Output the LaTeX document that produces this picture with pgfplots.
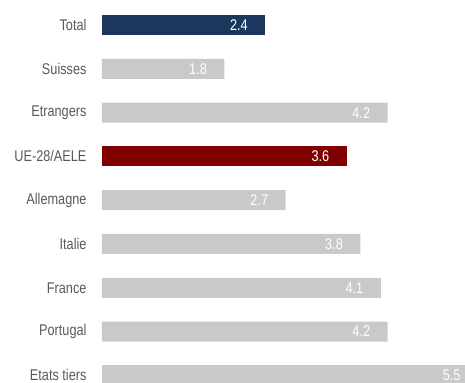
\documentclass[border=0pt]{standalone}
\usepackage{pgfplots}
\pgfplotsset{compat=1.18}
\usepackage{fontspec}
\setmainfont[FakeStretch=0.82]{Liberation Sans}
\definecolor{navy}{HTML}{1B375E}
\definecolor{darkred}{HTML}{800000}
\definecolor{lgray}{HTML}{C9C9C9}
\definecolor{labgray}{HTML}{595959}
\begin{document}
\begin{tikzpicture}
\begin{axis}[
  scale only axis,
  width=363pt, height=383pt,
  xmin=0, xmax=5.338,
  ymin=-0.571, ymax=8.174,
  y dir=reverse,
  axis line style={draw=none},
  xtick=\empty,
  ytick={0,1,2,3,4,5,6,7,8},
  yticklabels={Total,Suisses,Etrangers,UE-28/AELE,Allemagne,Italie,France,Portugal,Etats tiers},
  major tick length=0pt,
  yticklabel style={font=\fontsize{15.5}{17}\selectfont, text=labgray, xshift=-12pt},
  xbar, bar width=20pt, bar shift=0pt,
  clip=false,
  point meta=explicit,
  nodes near coords,
  nodes near coords style={anchor=east, xshift=-14pt, text=white, font=\fontsize{15.5}{17}\selectfont, /pgf/number format/fixed, /pgf/number format/fixed zerofill, /pgf/number format/precision=1, /pgf/number format/assume math mode=true},
]
\addplot[fill=navy, draw=none] coordinates {(2.4,0) [2.4]};
\addplot[fill=lgray, draw=none] coordinates {(1.8,1) [1.8] (4.2,2) [4.2]};
\addplot[fill=darkred, draw=none] coordinates {(3.6,3) [3.6]};
\addplot[fill=lgray, draw=none] coordinates {(2.7,4) [2.7] (3.8,5) [3.8] (4.1,6) [4.1] (4.2,7) [4.2]};
\addplot[fill=lgray, draw=none, nodes near coords style={xshift=13pt}] coordinates {(5.338,8) [5.5]};
\end{axis}
\pgfresetboundingbox
\useasboundingbox ([xshift=-102pt]current axis.south west) rectangle (current axis.north east);
\end{tikzpicture}
\end{document}
